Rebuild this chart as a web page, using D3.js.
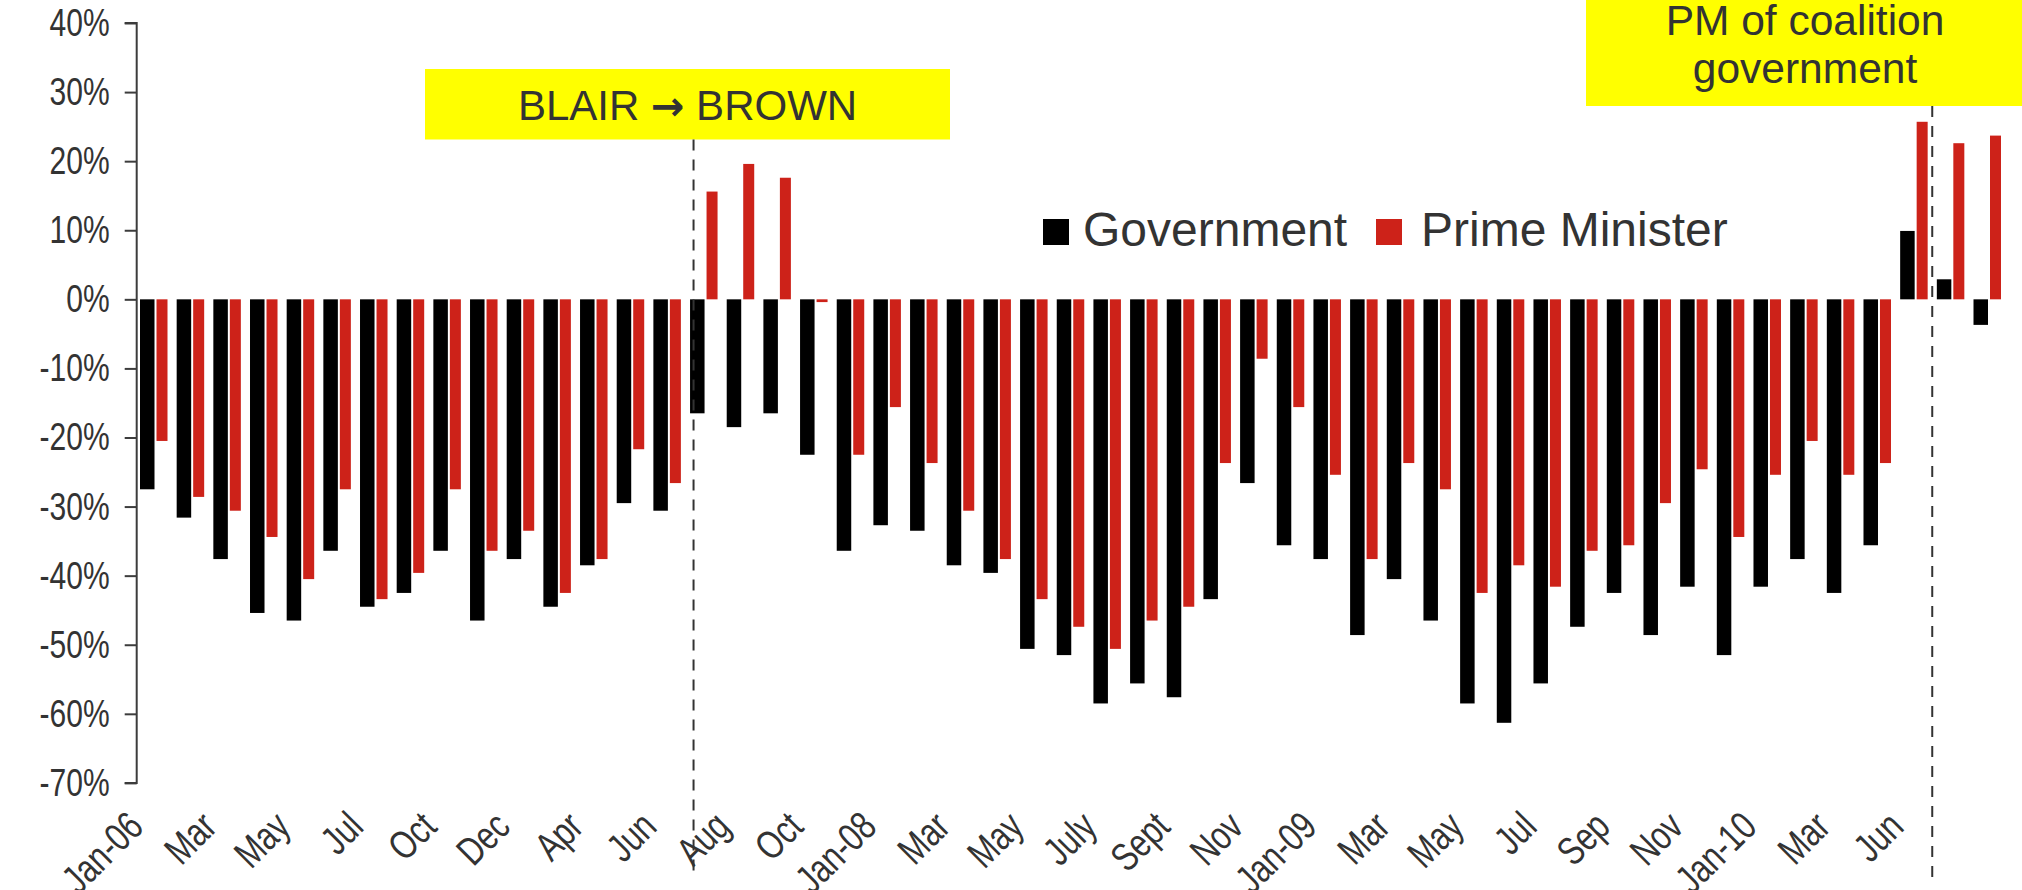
<!DOCTYPE html>
<html>
<head>
<meta charset="utf-8">
<script src="https://cdn.jsdelivr.net/npm/d3@7"></script>
<style>
  html, body { margin: 0; padding: 0; background: #fff; }
  svg { display: block; }
  text { font-family: "Liberation Sans", Arial, Helvetica, sans-serif; fill: #333; }
</style>
</head>
<body>
<svg id="chart" width="2022" height="890"></svg>
<script>
// ---- data ----
const categories = ["Jan-06","","Mar","","May","","Jul","","Oct","","Dec","","Apr","","Jun","",
  "Aug","","Oct","","Jan-08","","Mar","","May","","July","","Sept","","Nov","",
  "Jan-09","","Mar","","May","","Jul","","Sep","","Nov","","Jan-10","","Mar","","Jun","",""];
const government = [-27.5,-31.6,-37.6,-45.4,-46.5,-36.4,-44.5,-42.5,-36.4,-46.5,-37.6,-44.5,-38.5,-29.5,-30.6,
  -16.5,-18.5,-16.5,-22.5,-36.4,-32.7,-33.5,-38.5,-39.6,-50.6,-51.5,-58.5,-55.6,-57.6,-43.4,-26.6,-35.6,
  -37.6,-48.6,-40.5,-46.5,-58.5,-61.3,-55.6,-47.4,-42.5,-48.6,-41.6,-51.5,-41.6,-37.6,-42.5,-35.6,9.9,2.9,-3.7];
const primeMinister = [-20.5,-28.6,-30.6,-34.4,-40.5,-27.5,-43.4,-39.6,-27.5,-36.4,-33.5,-42.5,-37.6,-21.7,-26.6,
  15.6,19.6,17.6,-0.4,-22.5,-15.6,-23.7,-30.6,-37.6,-43.4,-47.4,-50.6,-46.5,-44.5,-23.7,-8.6,-15.6,
  -25.4,-37.6,-23.7,-27.5,-42.5,-38.5,-41.6,-36.4,-35.6,-29.5,-24.6,-34.4,-25.4,-20.5,-25.4,-23.7,25.7,22.6,23.7];
const yTicks = [40,30,20,10,0,-10,-20,-30,-40,-50,-60,-70];
const seriesNames = ["Government","Prime Minister"];
const annotations = [["BLAIR ", "\u2192", " BROWN"], ["PM of coalition","government"]];

// ---- layout ----
const svg = d3.select("#chart");
const axisX = 136.7;
const x = d3.scaleBand().domain(d3.range(categories.length))
  .range([140, 140 + categories.length * 36.67]).paddingInner(0).paddingOuter(0);
const y = d3.scaleLinear().domain([-70, 40]).range([782.9, 23]);
const colors = { gov: "#000000", pm: "#CD2219" };
const govW = 14.5, pmOff = 16.5, pmW = 11;
const condense = 0.77;

// annotation boxes (behind)
svg.append("rect").attr("x", 425).attr("y", 69).attr("width", 525).attr("height", 70.5).attr("fill", "#FFFF00");
svg.append("rect").attr("x", 1586).attr("y", -10).attr("width", 450).attr("height", 116).attr("fill", "#FFFF00");

// bars
svg.append("g").selectAll("rect").data(government).join("rect")
  .attr("x", (d, i) => x(i))
  .attr("width", govW)
  .attr("y", d => y(Math.max(0, d)))
  .attr("height", d => Math.abs(y(d) - y(0)))
  .attr("fill", colors.gov);
svg.append("g").selectAll("rect").data(primeMinister).join("rect")
  .attr("x", (d, i) => x(i) + pmOff)
  .attr("width", pmW)
  .attr("y", d => y(Math.max(0, d)))
  .attr("height", d => Math.max(1.5, Math.abs(y(d) - y(0))))
  .attr("fill", colors.pm);

// y axis
const yAxis = d3.axisLeft(y).tickValues(yTicks).tickSize(12).tickPadding(15)
  .tickFormat(d => d + "%");
const gy = svg.append("g").attr("transform", `translate(${axisX},0)`).call(yAxis);
gy.attr("font-family", null);
gy.select(".domain").attr("stroke", "#3c3c3c").attr("stroke-width", 2).attr("d", `M-12,${y(40)}H0V${y(-70)}H-12`);
gy.selectAll(".tick line").attr("stroke", "#3c3c3c").attr("stroke-width", 2);
gy.selectAll(".tick text")
  .style("font-size", "39px").attr("fill", "#333")
  .attr("x", 0)
  .attr("transform", `translate(-27,0) scale(${condense},1)`);

// x axis labels
const labelIdx = d3.range(categories.length).filter(i => categories[i] !== "");
const xAxis = d3.axisBottom(x).tickValues(labelIdx).tickSize(0).tickFormat(i => categories[i]);
const gx = svg.append("g").attr("transform", `translate(0,${y(-70)})`).call(xAxis);
gx.attr("font-family", null);
gx.select(".domain").remove();
gx.selectAll(".tick text")
  .style("font-size", "40px").attr("fill", "#333")
  .attr("text-anchor", "end").attr("x", 0).attr("y", 0).attr("dy", null)
  .attr("transform", `translate(-13,46) rotate(-45) scale(${condense},1)`);

// dashed lines
const dash1 = x(15) + 3.5;
const dash2 = (x(48) + pmOff + pmW + x(49)) / 2;
svg.append("line").attr("x1", dash1).attr("x2", dash1).attr("y1", 139.5).attr("y2", 872)
  .attr("stroke", "#333").attr("stroke-width", 2).attr("stroke-dasharray", "11,9");
svg.append("line").attr("x1", dash2).attr("x2", dash2).attr("y1", 106).attr("y2", 880)
  .attr("stroke", "#333").attr("stroke-width", 2).attr("stroke-dasharray", "11,9");

// annotation texts
const t1 = svg.append("text").attr("x", 687.5).attr("y", 120).attr("text-anchor", "middle")
  .style("font-size", "42px");
t1.append("tspan").text(annotations[0][0]);
t1.append("tspan").style("font-family", "'DejaVu Sans', sans-serif").style("font-size", "40px")
  .style("font-weight", "bold").text(annotations[0][1]);
t1.append("tspan").text(annotations[0][2]);
svg.append("text").attr("x", 1805).attr("y", 35).attr("text-anchor", "middle")
  .style("font-size", "42.5px").text(annotations[1][0]);
svg.append("text").attr("x", 1805).attr("y", 82.7).attr("text-anchor", "middle")
  .style("font-size", "42.5px").text(annotations[1][1]);

// legend
const legend = svg.append("g");
const legendItems = [
  { name: seriesNames[0], color: colors.gov, sx: 1043, tx: 1083 },
  { name: seriesNames[1], color: colors.pm, sx: 1376, tx: 1421 }
];
legendItems.forEach(it => {
  legend.append("rect").attr("x", it.sx).attr("y", 219).attr("width", 26).attr("height", 26).attr("fill", it.color);
  legend.append("text").attr("x", it.tx).attr("y", 245.5).style("font-size", "48px").text(it.name);
});
</script>
</body>
</html>
